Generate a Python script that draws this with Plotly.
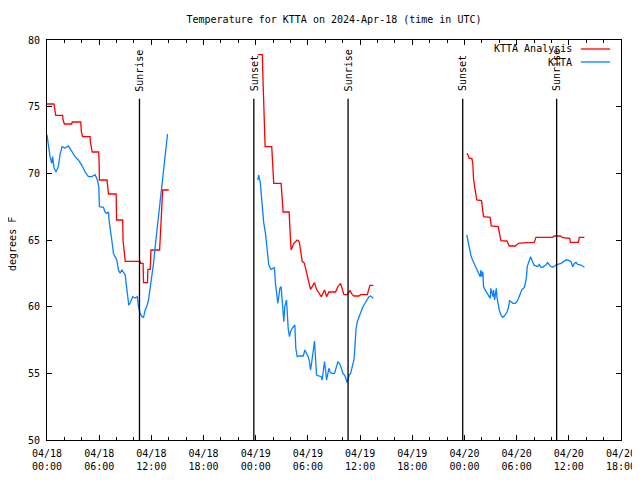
import pandas as pd
import plotly.graph_objects as go

START = pd.Timestamp("2024-04-18 00:00")

# KTTA Analysis (red) : hours since 2024-04-18 00:00 UTC, degrees F
ana1_h = [0.0, 0.8, 0.85, 1.0, 1.8, 1.85, 2.0, 2.84, 2.9, 3.88, 3.95, 4.1, 4.95, 5.0, 5.2, 5.95, 6.0, 6.03,
          6.9, 6.95, 7.07, 7.95, 7.98, 8.0, 8.7, 8.75, 9.0, 10.71, 10.75, 11.05, 11.1, 11.55, 11.6, 11.87,
          11.95, 12.95, 13.3, 14.0]
ana1_v = [75.2, 75.2, 75.0, 74.35, 74.35, 74.0, 73.7, 73.7, 73.85, 73.85, 73.1, 72.75, 72.75, 72.3, 71.6, 71.6,
          70.6, 69.5, 69.5, 69.0, 68.45, 68.45, 67.5, 66.5, 66.5, 64.9, 63.4, 63.4, 63.25, 63.25, 61.8, 61.8,
          62.8, 62.8, 64.25, 64.25, 68.75, 68.75]

ana2_h = [24.23, 24.77, 24.8, 24.9, 25.0, 25.08, 25.84, 25.92, 26.0, 26.07, 26.92, 27.04, 27.15, 27.84, 27.92,
          28.0, 28.07, 28.38, 28.76, 29.0, 29.15, 29.34, 29.6, 29.76, 29.92, 30.1, 30.3, 30.49, 30.76, 30.99,
          31.26, 31.53, 31.76, 31.91, 32.14, 32.41, 33.18, 33.45, 33.76, 33.95, 34.14, 34.53, 34.83, 35.1,
          35.29, 35.86, 36.06, 36.83, 37.13, 37.52]
ana2_v = [78.9, 78.9, 77.75, 75.5, 73.25, 72.0, 72.0, 70.75, 69.75, 69.25, 69.25, 68.25, 67.1, 67.1, 66.4,
          65.0, 64.25, 64.75, 65.0, 64.9, 64.25, 63.4, 63.25, 62.75, 62.25, 61.75, 61.3, 61.5, 61.8, 61.3,
          61.0, 60.75, 61.05, 61.25, 60.75, 61.1, 61.1, 61.5, 61.75, 61.4, 60.9, 60.9, 61.2, 60.9,
          60.8, 60.8, 60.9, 60.9, 61.6, 61.6]

ana3_h = [48.27, 48.43, 48.54, 48.85, 48.96, 49.04, 49.2, 49.35, 49.42, 49.96, 50.08, 50.19, 50.96, 51.08,
          51.88, 52.0, 52.19, 52.88, 53.15, 53.84, 54.22, 55.07, 56.03, 56.22, 58.14, 58.33, 59.02, 59.29,
          60.1, 60.18, 61.1, 61.21, 61.79]
ana3_v = [71.5, 71.375, 71.125, 71.125, 70.75, 69.625, 68.875, 68.25, 68.0, 67.95, 67.25, 66.75, 66.7, 66.05,
          66.0, 65.625, 64.95, 64.925, 64.55, 64.55, 64.75, 64.8, 64.825, 65.2, 65.2, 65.3, 65.3, 65.175,
          65.125, 64.825, 64.825, 65.2, 65.2]

# KTTA observations (blue)
obs1_h = [0.0, 0.04, 0.15, 0.35, 0.54, 0.65, 0.81, 1.04, 1.3, 1.5, 1.73, 2.07, 2.46, 2.84, 3.23, 3.61, 4.0,
          4.38, 4.76, 5.15, 5.53, 5.8, 5.95, 6.03, 6.49, 6.68, 6.87, 7.06, 7.18, 7.45, 7.64, 7.83, 8.03, 8.22,
          8.41, 8.6, 8.79, 8.99, 9.1, 9.25, 9.41, 9.56, 9.87, 10.14, 10.4, 10.52, 10.71, 10.91, 11.1, 11.29,
          11.49, 11.67, 11.87, 12.06, 12.25, 12.44, 12.64, 12.82, 13.02, 13.21, 13.4, 13.6, 13.71, 13.86]
obs1_v = [72.9, 72.7, 72.25, 71.25, 70.75, 71.25, 70.4, 70.1, 70.5, 71.4, 72.0, 71.9, 72.05, 71.6, 71.25, 71.0,
          70.6, 70.1, 69.75, 69.75, 69.9, 69.5, 69.0, 67.5, 67.45, 67.1, 67.0, 67.1, 66.25, 65.0, 64.0, 63.75,
          63.5, 62.75, 62.5, 62.75, 62.6, 62.4, 61.75, 61.0, 60.1, 60.3, 60.75, 60.65, 60.75, 60.0, 59.5,
          59.25, 59.2, 59.75, 60.05, 60.5, 61.4, 62.1, 63.25, 64.5, 65.75, 66.9, 68.0, 69.0, 70.5, 71.5,
          72.25, 72.95]

obs2_h = [24.23, 24.35, 24.46, 24.54, 24.66, 24.77, 24.85, 24.92, 25.12, 25.31, 25.5, 25.77, 26.0, 26.15,
          26.27, 26.38, 26.54, 26.65, 26.77, 26.92, 27.04, 27.15, 27.23, 27.34, 27.46, 27.54, 27.61, 27.73,
          27.88, 28.0, 28.19, 28.38, 28.5, 28.61, 28.77, 28.96, 29.46, 29.65, 29.84, 30.03, 30.18, 30.3,
          30.42, 30.53, 30.68, 30.76, 30.88, 30.99, 31.26, 31.53, 31.64, 31.76, 31.91, 32.03, 32.14, 32.3,
          32.41, 32.6, 32.79, 33.06, 33.29, 33.45, 33.68, 33.87, 34.06, 34.22, 34.37, 34.52, 34.64, 34.75,
          34.91, 35.1, 35.29, 35.41, 35.52, 35.68, 35.87, 36.06, 36.25, 36.44, 36.64, 36.83, 37.02, 37.21,
          37.4, 37.52]
obs2_v = [69.5, 69.875, 69.5, 69.25, 68.25, 67.25, 66.5, 66.3, 65.5, 64.25, 63.125, 62.8, 62.875, 62.925,
          61.75, 61.0, 60.25, 60.75, 61.375, 61.5, 60.375, 59.25, 58.875, 60.0, 60.375, 60.5, 59.75, 58.375,
          57.75, 58.125, 58.375, 58.55, 58.625, 56.875, 56.25, 56.3, 56.3, 56.75, 56.55, 56.25, 55.875, 55.25,
          55.75, 56.25, 57.2, 57.425, 56.125, 54.875, 54.8, 54.75, 54.5, 55.125, 55.875, 55.25, 54.5, 55.0,
          55.375, 55.05, 55.0, 55.0, 55.5, 55.875, 55.7, 55.375, 54.95, 54.875, 54.55, 54.3, 54.625, 54.875,
          55.0, 55.5, 56.0, 57.0, 58.25, 58.875, 59.25, 59.55, 59.875, 60.125, 60.375, 60.575, 60.75, 60.8,
          60.7, 60.625]

obs3_h = [48.27, 48.43, 48.54, 48.73, 48.93, 49.12, 49.31, 49.5, 49.69, 49.81, 49.89, 50.0, 50.12, 50.19,
          50.35, 50.5, 50.66, 50.85, 50.96, 51.04, 51.16, 51.27, 51.35, 51.46, 51.58, 51.66, 51.73, 51.85,
          52.0, 52.19, 52.39, 52.58, 52.77, 52.89, 53.04, 53.19, 53.35, 53.58, 53.84, 54.03, 54.22, 54.42,
          54.61, 54.8, 54.92, 55.11, 55.22, 55.34, 55.45, 55.6, 55.8, 55.99, 56.41, 56.6, 56.8, 56.99,
          57.18, 57.37, 57.56, 57.87, 58.14, 58.52, 59.1, 59.29, 59.48, 59.68, 59.87, 60.06, 60.25, 60.45,
          60.64, 60.83, 61.02, 61.41, 61.79]
obs3_v = [65.375, 64.875, 64.375, 63.875, 63.5, 63.25, 63.0, 62.75, 62.5, 62.25, 62.75, 62.25, 62.625, 61.5,
          61.3, 61.125, 61.0, 60.75, 60.625, 61.375, 61.0, 60.75, 61.25, 60.5, 61.0, 61.375, 60.75, 60.125,
          59.75, 59.375, 59.2, 59.3, 59.45, 59.6, 59.875, 60.45, 60.375, 60.25, 60.25, 60.375, 60.625, 61.0,
          61.3, 61.375, 61.5, 62.125, 63.0, 63.25, 63.5, 63.75, 63.425, 63.125, 63.0, 63.175, 62.95, 62.95,
          63.05, 63.125, 63.3, 63.05, 62.95, 63.125, 63.25, 63.325, 63.425, 63.5, 63.5, 63.45, 63.375,
          63.0, 63.25, 63.325, 63.175, 63.125, 62.95]

# Sun events (UTC)
sun_times = ["2024-04-18 10:38", "2024-04-18 23:47", "2024-04-19 10:37", "2024-04-19 23:48", "2024-04-20 10:36"]
sun_labels = ["Sunrise", "Sunset", "Sunrise", "Sunset", "Sunrise"]

TITLE = "Temperature for KTTA on 2024-Apr-18 (time in UTC)"
RED = "#ff0000"
BLUE = "#0a80ff"
FONT = "DejaVu Sans Mono"

# the page body adds an 8px offset; size the figure so the plot area lands at x 47-621, y 40-440
FIG_W, FIG_H = 632, 472


def times(hours):
    return START + pd.to_timedelta(hours, unit="h")


fig = go.Figure()
for h, v in [(ana1_h, ana1_v), (ana2_h, ana2_v), (ana3_h, ana3_v)]:
    fig.add_trace(go.Scatter(x=times(h), y=v, mode="lines", line=dict(color=RED, width=1.3),
                             showlegend=False, hoverinfo="skip"))
for h, v in [(obs1_h, obs1_v), (obs2_h, obs2_v), (obs3_h, obs3_v)]:
    fig.add_trace(go.Scatter(x=times(h), y=v, mode="lines", line=dict(color=BLUE, width=1.3),
                             showlegend=False, hoverinfo="skip"))

for t, lab in zip(sun_times, sun_labels):
    fig.add_shape(type="line", xref="x", yref="y", x0=t, x1=t, y0=50, y1=75.6,
                  line=dict(color="black", width=1.3))
    fig.add_annotation(x=t, y=76.0, xref="x", yref="y", text=lab, textangle=-90, showarrow=False,
                       xanchor="center", yanchor="bottom", font=dict(family=FONT, size=10, color="black"))

# gnuplot-style legend (text then sample line)
legend_items = [("KTTA Analysis", RED, 0.9775), ("KTTA", BLUE, 0.945)]
for name, col, yy in legend_items:
    fig.add_annotation(x=0.918, y=yy, xref="paper", yref="paper", text=name, showarrow=False,
                       xanchor="right", yanchor="middle", font=dict(family=FONT, size=10, color="black"))
    fig.add_shape(type="line", xref="paper", yref="paper", x0=0.930, x1=0.981, y0=yy, y1=yy,
                  line=dict(color=col, width=1.3))

fig.add_annotation(x=-0.061, y=0.49, xref="paper", yref="paper", text="degrees F", textangle=-90,
                   showarrow=False, xanchor="center", yanchor="middle",
                   font=dict(family=FONT, size=10, color="black"))

fig.update_layout(
    width=FIG_W, height=FIG_H,
    margin=dict(l=39, r=19, t=32, b=40, autoexpand=False),
    paper_bgcolor="white", plot_bgcolor="white",
    font=dict(family=FONT, size=10, color="black"),
    title=dict(text=TITLE, x=0.5, xref="paper", xanchor="center", y=1 - 11 / FIG_H, yanchor="middle",
               font=dict(family=FONT, size=10, color="black")),
    showlegend=False,
)
fig.update_xaxes(
    type="date", range=["2024-04-18 00:00", "2024-04-20 18:00"], automargin=False,
    tickmode="linear", tick0="2024-04-18 00:00", dtick=6 * 3600 * 1000,
    tickformat="%m/%d<br>%H:%M",
    ticks="inside", ticklen=5, tickcolor="black", mirror="ticks",
    showline=True, linecolor="black", linewidth=1, showgrid=False, zeroline=False,
    minor=dict(dtick=2 * 3600 * 1000, ticks="inside", ticklen=3, tickcolor="black", showgrid=False),
    ticklabelstandoff=4,
)
fig.update_yaxes(
    range=[50, 80], tickmode="linear", tick0=50, dtick=5, automargin=False,
    ticks="inside", ticklen=5, tickcolor="black", mirror="ticks",
    showline=True, linecolor="black", linewidth=1, showgrid=False, zeroline=False,
    ticklabelstandoff=4,
)

fig.write_html("out.html")
